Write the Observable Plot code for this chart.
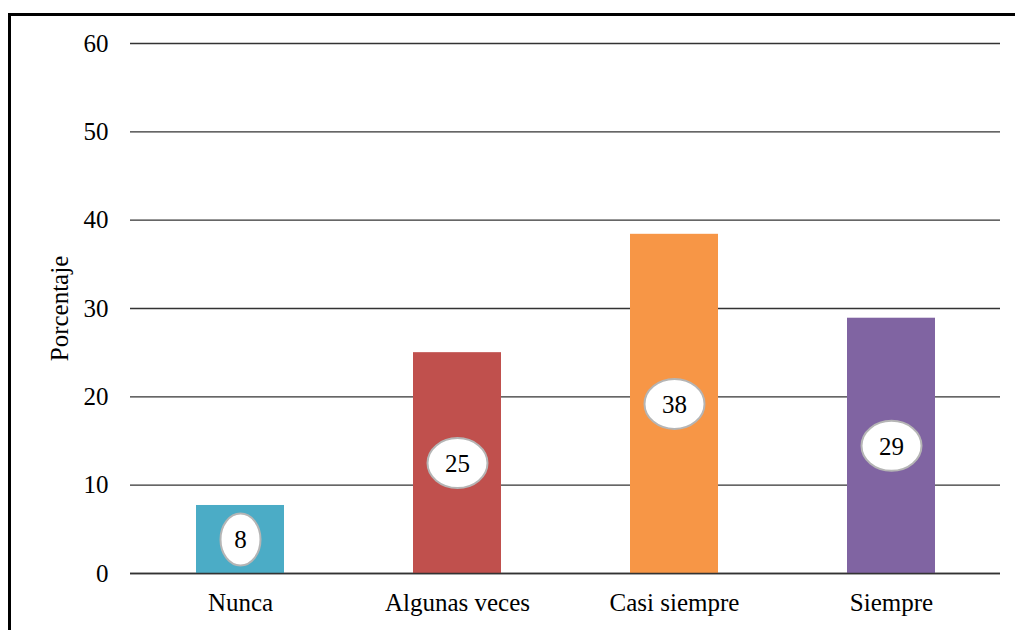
<!DOCTYPE html>
<html>
<head>
<meta charset="utf-8">
<script src="https://cdn.jsdelivr.net/npm/d3@7"></script>
<script src="https://cdn.jsdelivr.net/npm/@observablehq/plot@0.6"></script>
<style>
  html, body { margin: 0; padding: 0; background: #fff; }
  #wrap { position: relative; width: 1015px; height: 630px; overflow: hidden; }
  #frame { position: absolute; left: 8px; top: 13px; width: 1100px; height: 700px;
           border-left: 3px solid #000; border-top: 3px solid #000; pointer-events: none; }
</style>
</head>
<body>
<div id="wrap"><div id="frame"></div></div>
<script>
const categories = ["Nunca", "Algunas veces", "Casi siempre", "Siempre"];
const values = [7.7, 25.0, 38.4, 28.9];
const valueLabels = ["8", "25", "38", "29"];
const barColors = ["#4BACC6", "#C0504D", "#F79646", "#8064A2"];
const yTicks = [0, 10, 20, 30, 40, 50, 60];
const yTitle = "Porcentaje";

const data = categories.map((c, i) => ({cat: c, value: values[i], label: valueLabels[i], color: barColors[i]}));

function ellipseSymbol(rx, ry) {
  const k = 0.5522848;
  return {
    draw(ctx) {
      ctx.moveTo(rx, 0);
      ctx.bezierCurveTo(rx, ry * k, rx * k, ry, 0, ry);
      ctx.bezierCurveTo(-rx * k, ry, -rx, ry * k, -rx, 0);
      ctx.bezierCurveTo(-rx, -ry * k, -rx * k, -ry, 0, -ry);
      ctx.bezierCurveTo(rx * k, -ry, rx, -ry * k, rx, 0);
      ctx.closePath();
    }
  };
}

const plot = Plot.plot({
  width: 1015,
  height: 630,
  marginLeft: 130,
  marginRight: 15,
  marginTop: 43,
  marginBottom: 57,
  style: {fontFamily: "'Liberation Serif', serif", fontSize: "25px", color: "#000", background: "transparent"},
  x: {domain: categories, paddingInner: 0.595, paddingOuter: 0.2975},
  y: {domain: [0, 60]},
  marks: [
    Plot.ruleY(yTicks, {stroke: "#333", strokeWidth: 1.4}),
    Plot.barY(data, {x: "cat", y: "value", fill: "color"}),
    Plot.ruleY([0], {stroke: "#333", strokeWidth: 1.4}),
    Plot.dot(data.filter(d => d.label.length === 1), {
      x: "cat", y: d => d.value / 2, symbol: ellipseSymbol(20, 26),
      fill: "#fff", stroke: "#b5b5b5", strokeWidth: 2, r: 1
    }),
    Plot.dot(data.filter(d => d.label.length > 1), {
      x: "cat", y: d => d.value / 2, symbol: ellipseSymbol(30, 25),
      fill: "#fff", stroke: "#b5b5b5", strokeWidth: 2, r: 1
    }),
    Plot.text(data, {x: "cat", y: d => d.value / 2, text: "label", fill: "#000", fontSize: 25, dy: 1}),
    Plot.axisY({ticks: yTicks, tickSize: 0, tickPadding: 22, tickFormat: d => String(d),
      label: yTitle, labelAnchor: "center", labelArrow: "none", labelOffset: 80}),
    Plot.axisX({tickSize: 0, tickPadding: 20, label: null})
  ]
});
document.getElementById("wrap").insertBefore(plot, document.getElementById("frame"));
</script>
</body>
</html>
